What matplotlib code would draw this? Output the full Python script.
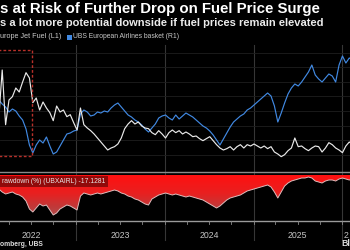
import numpy as np
import pandas as pd
import matplotlib
matplotlib.use("Agg")
import matplotlib.pyplot as plt
import matplotlib.dates as mdates
import matplotlib.transforms as mtransforms
from matplotlib.patches import Rectangle
from matplotlib.lines import Line2D
from matplotlib.colors import LinearSegmentedColormap

# ---------------- data ----------------
dates = pd.date_range("2022-02-18", periods=105, freq="14D")

jet_fuel = [128, 200, 118, 155, 160, 173, 167, 182, 196, 188,
            151, 158, 140, 152, 143, 136, 124, 146, 137, 140,
            130, 133, 121, 110, 143, 118, 113, 109, 104, 98,
            92, 86, 80, 83, 85, 89, 98, 112, 119, 124,
            119, 122, 116, 113, 112, 106, 103, 109, 104, 98,
            106, 110, 106, 109, 104, 107, 104, 100, 101, 97,
            94, 97, 100, 94, 88, 83, 80, 82, 85, 80,
            85, 88, 83, 88, 86, 89, 86, 83, 86, 82,
            85, 77, 74, 70, 73, 79, 83, 98, 85, 86,
            82, 79, 83, 86, 85, 77, 83, 91, 88, 83,
            80, 76, 86, 92, 88]

ubs_basket = [106.0, 102.8, 100.4, 96.4, 98.8, 97.2, 93.2, 90.0, 82.8, 70.0,
              63.6, 70.0, 74.0, 71.6, 76.4, 69.2, 62.8, 64.4, 69.2, 74.0,
              78.8, 79.6, 81.2, 82.0, 94.8, 98.0, 96.4, 93.2, 94.0, 96.4,
              95.6, 97.2, 96.4, 99.6, 102.0, 103.6, 100.4, 97.2, 94.0, 92.4,
              90.0, 88.4, 86.0, 82.8, 80.4, 83.6, 86.8, 91.6, 93.2, 94.0,
              91.6, 90.0, 94.0, 90.8, 93.2, 95.6, 94.0, 92.4, 90.0, 87.6,
              85.2, 83.6, 81.2, 78.0, 74.0, 70.0, 74.8, 79.6, 84.4, 88.4,
              90.8, 93.2, 94.8, 98.0, 99.6, 102.0, 104.4, 106.8, 109.2, 111.6,
              109.2, 101.2, 88.4, 95.6, 103.6, 110.8, 115.6, 118.8, 117.2, 120.4,
              124.4, 128.4, 134.0, 126.0, 122.8, 120.4, 123.6, 126.8, 125.2, 120.4,
              134.0, 141.2, 135.6, 139.6, 138.0]

drawdown = [-29.1, -32.7, -35.1, -33.9, -32.7, -35.1, -36.3, -38.7, -43.5, -53.1,
            -56.7, -51.9, -47.1, -49.5, -48.3, -54.3, -60.3, -57.9, -53.1, -50.7,
            -48.3, -49.5, -51.9, -54.3, -37.5, -33.9, -35.1, -36.3, -35.1, -33.9,
            -35.1, -33.9, -32.7, -31.5, -30.3, -31.5, -33.9, -35.1, -37.5, -38.7,
            -41.1, -42.3, -44.7, -47.1, -48.3, -41.1, -38.7, -36.3, -35.1, -33.9,
            -35.1, -36.3, -35.1, -36.3, -37.5, -38.7, -37.5, -38.7, -39.9, -41.1,
            -42.3, -44.7, -47.1, -49.5, -51.9, -49.5, -45.9, -42.3, -39.9, -38.7,
            -37.5, -36.3, -33.9, -31.5, -30.3, -29.1, -27.9, -26.7, -25.5, -24.3,
            -26.7, -32.7, -39.9, -32.7, -25.5, -21.9, -19.5, -18.3, -17.1, -15.9,
            -15.9, -14.7, -15.9, -19.5, -20.7, -21.9, -19.5, -18.3, -18.3, -19.5,
            -17.1, -15.9, -17.1, -18.3, -17.13]

year_labels = ["2022", "2023", "2024", "2025", "2"]
year_label_dates = ["2022-07-02", "2023-07-02", "2024-07-02", "2025-07-02", "2026-01-05"]
year_bounds = ["2023-01-01", "2024-01-01", "2025-01-01", "2026-01-01"]

title = "s at Risk of Further Drop on Fuel Price Surge"
subtitle = "s a lot more potential downside if fuel prices remain elevated"
legend_jet = "urope Jet Fuel (L1)"
legend_ubs = "UBS European Airlines basket (R1)"
dd_label = "rawdown (%) (UBXAIRL) -17.1281"
source = "omberg, UBS"
brand = "Bl"

# ---------------- style ----------------
W, H = 350, 250
BG = "black"
WHITE = "#e9e9e9"
BLUE = "#4189e2"
FONT = "Liberation Sans"
plt.rcParams["font.family"] = [FONT, "DejaVu Sans"]

fig = plt.figure(figsize=(W / 100, H / 100), dpi=100, facecolor=BG)


def fy(py):
    return 1 - py / H


xmin = mdates.date2num(pd.Timestamp("2022-02-22 23:00"))
xmax = mdates.date2num(pd.Timestamp("2026-02-02"))
dnum = mdates.date2num(dates)

# main panel (pixel rows 45..172)
ax = fig.add_axes([0, fy(172), 1, (172 - 45) / H])
ax.set_facecolor("none")
ax.set_xlim(xmin, xmax)
ax.set_ylim(48.4, 150)
ax2 = ax.twinx()
ax2.set_facecolor("none")
ax2.set_ylim(47, 237.5)
for a in (ax, ax2):
    a.set_xticks([])
    a.set_yticks([])
    for s in a.spines.values():
        s.set_visible(False)
ax.spines["bottom"].set_visible(True)
ax.spines["bottom"].set_color("#8a8a8a")
ax.spines["bottom"].set_linewidth(1.0)

# faint horizontal grid
for py in [53, 67.5, 82, 96.5, 111, 125.5, 140, 154.5]:
    f = (172 - py) / 127
    ax.plot([0, 1], [f, f], transform=ax.transAxes, color="#1f1f1f", lw=0.6, zorder=0)

ax.plot(dnum, ubs_basket, color=BLUE, lw=0.85, zorder=3)
ax2.plot(dnum, jet_fuel, color=WHITE, lw=0.85, zorder=3)

# dashed highlight box
x0 = mdates.date2num(pd.Timestamp("2022-01-20"))
x1 = mdates.date2num(pd.Timestamp("2022-07-04"))
ax2.add_patch(Rectangle((x0, 71), x1 - x0, 230 - 71, fill=False,
                        edgecolor="#b8302a", lw=1.0, ls=(0, (2, 1.5)), zorder=4))

# drawdown panel (pixel rows 175..221)
axd = fig.add_axes([0, fy(221), 1, (221 - 175) / H])
axd.set_facecolor("none")
axd.set_xlim(xmin, xmax)
top, bot = -12.3, -67.5
axd.set_ylim(bot, top)
axd.set_yticks([])
axd.set_xticks([])
for s in axd.spines.values():
    s.set_visible(False)
axd.spines["bottom"].set_visible(True)
axd.spines["bottom"].set_color("#9a9a9a")
axd.spines["bottom"].set_linewidth(1.0)

cmap = LinearSegmentedColormap.from_list(
    "dd", [(0, "#a65858"), (0.3, "#c03a3a"), (0.6, "#e82020"), (1, "#ff1010")])
grad = np.linspace(0, 1, 256).reshape(-1, 1)
im = axd.imshow(grad, extent=[xmin, xmax, bot, top], origin="lower",
                aspect="auto", cmap=cmap, zorder=1)
poly = axd.fill_between(dnum, drawdown, top, facecolor="none", edgecolor="none")
im.set_clip_path(poly.get_paths()[0], transform=axd.transData)
axd.plot(dnum, drawdown, color="#e0bcbc", lw=0.7, zorder=3)

# quarterly small ticks on the bottom line
qt = pd.date_range("2022-04-01", "2026-02-01", freq="QS")
tb = mtransforms.blended_transform_factory(axd.transData, axd.transAxes)
for q in qt:
    axd.plot([mdates.date2num(q)] * 2, [0, -0.06], transform=tb,
             color="#8a8a8a", lw=0.6, clip_on=False, zorder=3)

# year separators spanning both panels
bt = mtransforms.blended_transform_factory(ax.transData, fig.transFigure)
for d in year_bounds:
    xv = mdates.date2num(pd.Timestamp(d))
    fig.add_artist(Line2D([xv, xv], [fy(45), fy(240)], transform=bt,
                          color="#363636", lw=0.8, zorder=-1))

# texts
texts = []


def ftext(px, py, s, target_w=None, **kw):
    t = fig.text(px / W, fy(py), s, **kw)
    texts.append((t, target_w))
    return t


ftext(0, 9.5, title, 320, color="white", weight="bold", fontsize=8.5, va="center", ha="left")
ftext(0, 22.5, subtitle, 323, color="#ececec", weight="bold", fontsize=6.5, va="center", ha="left")
ftext(0, 37, legend_jet, 61, color="#c9c9c9", fontsize=4.5, va="center", ha="left")
fig.add_artist(Rectangle((67 / W, fy(39.5)), 4.5 / W, 4.5 / H, transform=fig.transFigure,
                         facecolor=BLUE, edgecolor="none"))
ftext(73, 37, legend_ubs, 105, color="#c9c9c9", fontsize=4.5, va="center", ha="left")

fig.add_artist(Rectangle((0, fy(187)), 108 / W, 11 / H, transform=fig.transFigure,
                         facecolor="#400000", alpha=0.55, edgecolor="none", zorder=5))
ftext(1.5, 181.5, dd_label, 104, color="#e6e6e6", fontsize=4.5, va="center", ha="left", zorder=6)

for lab, d in zip(year_labels, year_label_dates):
    xv = mdates.date2num(pd.Timestamp(d))
    ha = "left" if len(lab) == 1 else "center"
    fig.text(xv, fy(235.5), lab, transform=bt, color="#c4c4c4", fontsize=6.3,
             ha=ha, va="center")

ftext(0, 245, source, 43, color="#dcdcdc", weight="bold", fontsize=5.5, va="center", ha="left")
fig.text(341 / W, fy(244), brand, color="#dcdcdc", weight="bold", fontsize=6.3,
         va="center", ha="left")

fig.canvas.draw()
r = fig.canvas.get_renderer()
for t, tw in texts:
    if tw:
        w = t.get_window_extent(r).width
        t.set_fontsize(t.get_fontsize() * tw / w)

fig.savefig("out.png", dpi=100, facecolor=BG)
